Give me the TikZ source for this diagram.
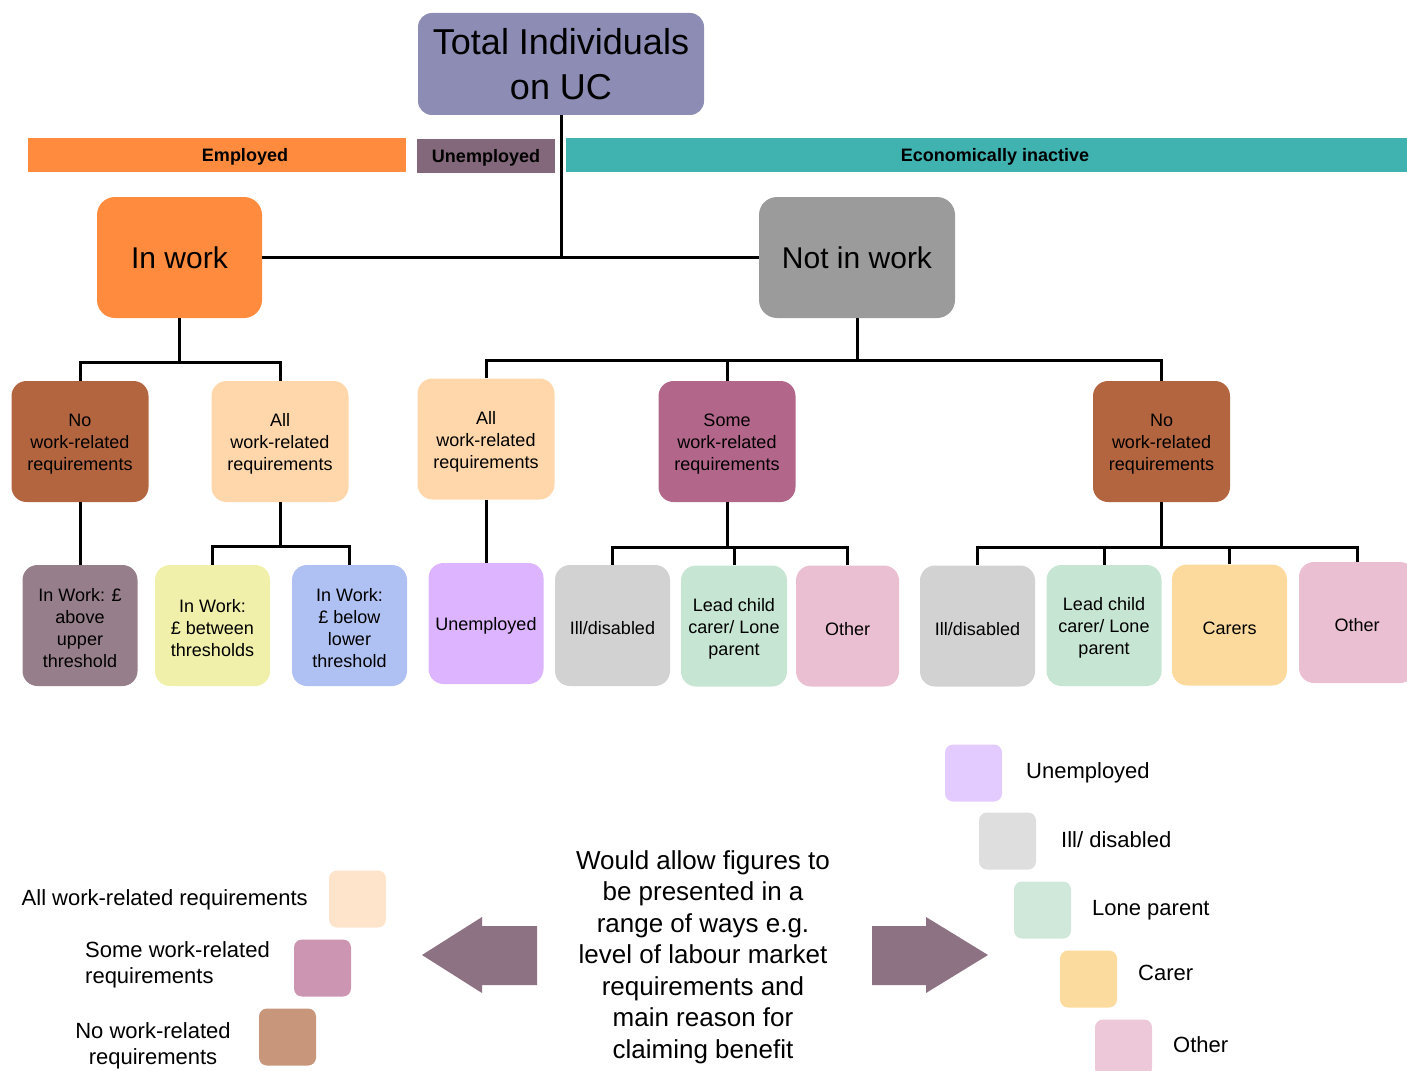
\documentclass[tikz,border=0pt]{standalone}
\usepackage{fontspec}
\setmainfont{Liberation Sans}
\definecolor{cTotal}{RGB}{140,140,180}
\definecolor{cOrange}{RGB}{255,140,62}
\definecolor{cUnemp}{RGB}{130,104,122}
\definecolor{cTeal}{RGB}{64,178,176}
\definecolor{cGray}{RGB}{155,155,155}
\definecolor{cBrown}{RGB}{178,101,63}
\definecolor{cPeach}{RGB}{255,215,171}
\definecolor{cSome}{RGB}{178,102,138}
\definecolor{cAbove}{RGB}{150,126,138}
\definecolor{cBetween}{RGB}{240,240,170}
\definecolor{cBelow}{RGB}{175,192,242}
\definecolor{cUnempLeaf}{RGB}{220,180,255}
\definecolor{cIll}{RGB}{210,210,210}
\definecolor{cLead}{RGB}{198,229,210}
\definecolor{cOther}{RGB}{234,191,209}
\definecolor{cCarer}{RGB}{252,218,158}
\definecolor{cArrow}{RGB}{140,114,130}
\definecolor{lUnemp}{RGB}{227,203,255}
\definecolor{lIll}{RGB}{222,222,222}
\definecolor{lLone}{RGB}{207,232,217}
\definecolor{lCarer}{RGB}{252,219,158}
\definecolor{lOther}{RGB}{237,200,216}
\definecolor{lAll}{RGB}{255,228,204}
\definecolor{lSome}{RGB}{204,150,178}
\definecolor{lNo}{RGB}{200,150,122}
\newcommand\hstrut{\rule{0pt}{18.5pt}}
\tikzset{
  box/.style={rounded corners=15pt, inner sep=0pt, align=center, draw=none},
  small/.style={box, font=\fontsize{18}{22}\selectfont},
  mid/.style={small, minimum width=137pt, minimum height=121pt},
  leaf/.style={small, minimum width=115pt, minimum height=121pt},
  bar/.style={inner sep=0pt, minimum height=34pt, font=\bfseries\fontsize{18}{22}\selectfont},
  link/.style={line width=3pt, black},
  lsq/.style={rounded corners=8pt, minimum width=57pt, minimum height=57pt, inner sep=0pt},
  ltext/.style={font=\fontsize{22}{26}\selectfont, inner sep=0pt},
}
\begin{document}
\begin{tikzpicture}[x=1pt,y=-1pt]
\useasboundingbox (0,0) rectangle (1407,1070);
% top
\node[box, rounded corners=14pt, fill=cTotal, minimum width=286pt, minimum height=102pt, font=\fontsize{36}{45}\selectfont] (total) at (561,64) {Total Individuals\\on UC};
% bars
\node[bar, fill=cOrange, minimum width=378pt] (employed) at (217,154.5) {\rule{0pt}{17pt}\hspace*{56pt}Employed};
\node[bar, fill=cUnemp, minimum width=138pt] (unempbar) at (486,155.5) {\rule{0pt}{17.5pt}Unemployed};
\node[bar, fill=cTeal, minimum width=841pt] (inactive) at (986.5,155) {\rule{0pt}{17.5pt}\hspace*{17pt}Economically inactive};
% level 1
\node[box, rounded corners=18pt, fill=cOrange, minimum width=165pt, minimum height=121pt, font=\fontsize{30}{36}\selectfont] (inwork) at (179.5,257.5) {In work};
\node[box, rounded corners=18pt, fill=cGray, minimum width=196pt, minimum height=121pt, font=\fontsize{30}{36}\selectfont] (notinwork) at (857,257.5) {Not in work};
% level 2
\node[mid, fill=cBrown] (nowrrA) at (80,441.5) {\hstrut No\\work-related\\requirements};
\node[mid, fill=cPeach] (allwrrA) at (280,441.5) {\hstrut All\\work-related\\requirements};
\node[mid, fill=cPeach] (allwrrB) at (486,439) {\hstrut All\\work-related\\requirements};
\node[mid, fill=cSome] (somewrr) at (727,441.5) {\hstrut Some\\work-related\\requirements};
\node[mid, fill=cBrown] (nowrrB) at (1161.5,441.5) {\hstrut No\\work-related\\requirements};
% leaves
\node[leaf, fill=cAbove] (above) at (80,625.5) {\hstrut In Work: £\\above\\upper\\threshold};
\node[leaf, fill=cBetween] (between) at (212.5,625.5) {\hstrut In Work:\\£ between\\thresholds};
\node[leaf, fill=cBelow] (below) at (349.5,625.5) {\hstrut In Work:\\£ below\\lower\\threshold};
\node[leaf, fill=cUnempLeaf] (unempleaf) at (486,623.5) {\hstrut Unemployed};
\node[leaf, fill=cIll] (illA) at (612.5,625.5) {\hstrut Ill/disabled};
\node[leaf, fill=cLead, minimum width=106pt] (leadA) at (734,626) {\hstrut Lead child\\carer/ Lone\\parent};
\node[leaf, fill=cOther, minimum width=103pt] (otherA) at (847.5,626) {\hstrut Other};
\node[leaf, fill=cIll] (illB) at (977.5,626) {\hstrut Ill/disabled};
\node[leaf, fill=cLead] (leadB) at (1104,625.5) {\hstrut Lead child\\carer/ Lone\\parent};
\node[leaf, fill=cCarer] (carers) at (1229.5,625) {\hstrut Carers};
\node[leaf, fill=cOther, minimum width=116pt] (otherB) at (1357,622.5) {\hstrut Other};
% connectors
\draw[link] (total.south) -- (total.south |- inwork.east);
\draw[link] (inwork.east) -- (notinwork.west);
\draw[link] (inwork.south) -- ++(0,44) coordinate (f1);
\draw[link] (nowrrA.north) |- (f1) -| (allwrrA.north);
\draw[link] (notinwork.south) -- ++(0,42) coordinate (f2);
\draw[link] (allwrrB.north) |- (f2) -| (nowrrB.north);
\draw[link] (f2 -| somewrr.north) -- (somewrr.north);
\draw[link] (nowrrA.south) -- (above.north);
\draw[link] (allwrrA.south) -- ++(0,44) coordinate (f3);
\draw[link] (between.north) |- (f3) -| (below.north);
\draw[link] (allwrrB.south) -- (unempleaf.north);
\draw[link] (somewrr.south) -- ++(0,45) coordinate (f4);
\draw[link] (illA.north) |- (f4) -| (otherA.north);
\draw[link] (leadA.north) -- (leadA.north |- f4);
\draw[link] (nowrrB.south) -- ++(0,45) coordinate (f5);
\draw[link] (illB.north) |- (f5) -| (otherB.north);
\draw[link] (leadB.north) -- (leadB.north |- f5);
\draw[link] (carers.north) -- (carers.north |- f5);
% centre text and arrows
\node[align=center, inner sep=0pt, font=\fontsize{26}{31.5}\selectfont] (centre) at (703,957) {Would allow figures to\\be presented in a\\range of ways e.g.\\level of labour market\\requirements and\\main reason for\\claiming benefit};
\fill[cArrow] (537,926) -- (482,926) -- (482,917) -- (422,955) -- (482,993) -- (482,985) -- (537,985) -- cycle;
\fill[cArrow] (872,926) -- (926,926) -- (926,917) -- (988,955) -- (926,993) -- (926,985) -- (872,985) -- cycle;
% right legend
\node[lsq, fill=lUnemp] (lgA) at (973.5,773) {};
\node[ltext, anchor=west] (lgAt) at (1026,773) {Unemployed};
\node[lsq, fill=lIll] (lgB) at (1007.5,841) {};
\node[ltext, anchor=west] (lgBt) at (1061,840) {Ill/ disabled};
\node[lsq, fill=lLone] (lgC) at (1042.5,910) {};
\node[ltext, anchor=west] (lgCt) at (1092,910) {Lone parent};
\node[lsq, fill=lCarer] (lgD) at (1088.5,979) {};
\node[ltext, anchor=west] (lgDt) at (1138,973) {Carer};
\node[lsq, fill=lOther] (lgE) at (1123.5,1048) {};
\node[ltext, anchor=west] (lgEt) at (1173,1045) {Other};
% left legend
\node[lsq, fill=lAll] (lgF) at (357.5,899) {};
\node[ltext, anchor=east] (lgFt) at (308,900) {All work-related requirements};
\node[lsq, fill=lSome] (lgG) at (322.5,968) {};
\node[ltext, anchor=west, align=left] (lgGt) at (85,965) {Some work-related\\requirements};
\node[lsq, fill=lNo] (lgH) at (287.5,1037) {};
\node[ltext, align=center] (lgHt) at (153,1046) {No work-related\\requirements};
\end{tikzpicture}
\end{document}
